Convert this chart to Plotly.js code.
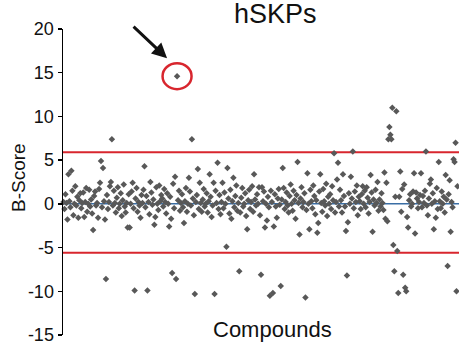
<!DOCTYPE html>
<html>
<head>
<meta charset="utf-8">
<script src="https://cdn.plot.ly/plotly-3.0.1.min.js"></script>
<style>html,body{margin:0;padding:0;background:#fff;}#chart{width:459px;height:347px;}</style>
</head>
<body>
<div id="chart"></div>
<script>
// B-scores per compound, in compound order
const bScores = [
  0.2, -0.6, 1.1, 0.1, -1.8, 3.4, 0.3, -0.4, 3.8, 1.5, -1.3, 0.0, 2.0, -0.2, 0.8, -1.6, 0.4, 1.2, -0.5, 0.1,
  1.3, -1.5, 0.2, 1.8, -0.9, 0.0, 1.6, -0.3, 0.5, -1.1, -3.0, 0.9, 1.4, -0.2, 0.1, -1.6, 1.7, 2.4, 4.9, -0.4,
  4.1, 0.3, -1.8, -8.6, 1.0, -0.6, 0.2, 2.0, 2.5, 7.4, -0.2, 1.5, 0.1, -1.0, 0.7, 1.9, -0.5, 0.0, 1.2, -1.4,
  0.4, 2.2, -0.3, -1.0, 0.1, -2.7, 1.1, -2.7, 0.0, 1.4, 2.4, -0.5, -9.9, 0.6, 1.8, -0.9, 0.2, -0.2, -1.6, 1.0,
  0.1, 1.6, 4.3, -0.4, 0.9, -9.9, 0.2, -1.2, 2.5, 1.3, -0.1, 0.5, -2.4, -1.5, 1.9, 0.0, -0.7, 2.1, 0.3, 1.0,
  0.6, -0.3, 1.7, 0.2, -1.1, 1.2, 0.0, -2.6, 0.8, -1.7, -7.9, 2.3, -0.5, 3.1, -8.6, 14.6, 0.4, 1.5, -0.8, 0.1,
  1.1, -0.4, -2.2, 0.3, 1.8, -0.9, 0.0, 3.0, 1.4, -0.2, 7.4, 0.6, -1.3, -10.3, 0.2, 1.0, 4.0, -0.6, 2.4, 0.1,
  -0.9, 0.5, 1.7, -0.3, 0.0, 1.2, -1.0, 0.3, 3.4, 0.8, -1.5, -0.2, 2.4, -10.3, 1.5, 0.1, 4.7, -0.6, 1.0, -1.2,
  0.2, 2.4, -0.5, 1.3, 0.0, -4.9, 4.1, 0.6, -1.1, 1.6, -1.7, 0.3, 3.0, -0.4, 0.9, 2.1, -0.8, 0.1, -7.7, -1.0,
  0.7, 1.8, -0.3, 0.0, 1.2, -1.4, -2.9, 0.4, 1.6, -0.6, 0.2, 2.0, -0.9, 3.4, 0.5, -0.2, 1.1, 0.0, 1.9, -1.3,
  -8.1, 1.9, 0.3, 1.4, -2.7, 0.0, -1.9, 0.8, -0.4, -10.5, 1.5, 0.2, -10.2, -2.6, 1.1, -0.3, -1.6, 0.6, 1.7, -0.1,
  -9.4, 0.5, 4.1, 1.8, -0.6, 0.2, 1.3, -0.2, -1.0, 0.9, 2.2, 0.0, -0.8, 1.5, 0.4, -1.7, 1.0, 4.8, 0.1, -3.5,
  0.6, 1.9, -0.4, 0.2, 1.2, -10.7, -0.7, 3.5, 0.0, -2.9, 1.6, 0.3, -0.5, 2.1, 0.9, -1.2, 0.4, -3.3, -2.2, 1.4,
  3.4, 0.1, -0.9, 1.7, 0.3, -0.2, 2.3, -1.4, 0.8, 0.0, 1.1, -0.6, 2.0, 0.4, 5.8, -1.0, 0.2, 2.8, 4.7, -0.3,
  1.6, 0.4, -1.0, 3.4, 0.9, -0.3, -3.1, -8.2, -2.1, 1.2, 0.0, 3.1, 0.6, 6.0, -0.5, 1.4, 0.2, 2.1, -1.3, 0.8,
  0.3, -0.6, 1.1, 2.0, 0.0, 1.5, -0.4, 1.9, 0.7, -1.1, 0.2, 3.3, 1.3, -3.2, 0.5, -0.2, 1.6, 0.1, 2.5, -0.8,
  0.5, -0.3, 1.2, 0.1, -0.7, 3.6, -1.7, 2.4, -2.0, 7.4, 8.8, 7.9, 7.4, 11.0, -4.7, -7.7, 0.8, 10.6, -5.4, -10.2,
  0.8, 3.7, -0.9, 1.7, -8.1, 2.2, -9.6, -10.0, -1.5, -2.7, 0.4, 1.1, -0.3, 0.0, 1.4, 3.5, -3.4, 1.3, 0.6, -0.5,
  0.2, 1.0, 3.5, -0.4, 0.9, 0.1, 1.5, 6.0, -0.2, -1.3, 0.6, 2.3, 2.8, 0.0, 1.2, -2.9, 0.3, -1.6, 1.8, -0.6,
  4.8, 0.3, -0.5, 1.4, 0.0, 0.8, -1.0, 3.3, 0.5, -7.1, 1.1, 2.7, -3.2, 0.2, -0.4, 5.1, 4.8, 7.0, -10.0, 2.0
];
const compounds = bScores.map((_, i) => i);

const upperCutoff = 5.9;
const lowerCutoff = -5.6;
const baseline = 0;

const yTicks = [-15, -10, -5, 0, 5, 10, 15, 20];

const titleText = 'hSKPs';
const xTitleText = 'Compounds';
const yTitleText = 'B-Score';

// the highlighted hit
const hitIndex = bScores.indexOf(Math.max(...bScores));
const hitX = compounds[hitIndex];
const hitY = bScores[hitIndex];

const trace = {
  x: compounds,
  y: bScores,
  type: 'scatter',
  mode: 'markers',
  marker: {symbol: 'diamond', size: 5, color: '#585858'},
  hoverinfo: 'x+y',
  cliponaxis: false
};

const font = 'Liberation Sans, Arial, sans-serif';

const layout = {
  width: 459,
  height: 347,
  margin: {l: 63, r: 0, t: 29, b: 12},
  paper_bgcolor: '#ffffff',
  plot_bgcolor: '#ffffff',
  showlegend: false,
  xaxis: {
    range: [-0.5, compounds.length + 0.5],
    showgrid: false,
    zeroline: false,
    showline: false,
    showticklabels: false,
    ticks: ''
  },
  yaxis: {
    range: [-15, 20],
    tickvals: yTicks,
    ticktext: yTicks.map(String),
    showgrid: false,
    zeroline: false,
    showline: true,
    linecolor: '#000',
    linewidth: 1.5,
    ticks: 'outside',
    ticklen: 4,
    tickwidth: 1.5,
    tickcolor: '#000',
    tickfont: {family: font, size: 18, color: '#111'}
  },
  shapes: [
    {type: 'line', xref: 'paper', yref: 'y', x0: 0, x1: 1, y0: baseline, y1: baseline,
     line: {color: '#3a6ea5', width: 1.5}, layer: 'below'},
    {type: 'line', xref: 'paper', yref: 'y', x0: 0, x1: 1, y0: upperCutoff, y1: upperCutoff,
     line: {color: '#d8262e', width: 2}, layer: 'below'},
    {type: 'line', xref: 'paper', yref: 'y', x0: 0, x1: 1, y0: lowerCutoff, y1: lowerCutoff,
     line: {color: '#d8262e', width: 2}, layer: 'below'},
    {type: 'circle', xref: 'x', yref: 'y', xsizemode: 'pixel', ysizemode: 'pixel',
     xanchor: hitX, yanchor: hitY, x0: -14.5, x1: 14.5, y0: -13, y1: 13,
     line: {color: '#d8262e', width: 2.5}}
  ],
  annotations: [
    {text: titleText, xref: 'paper', yref: 'paper', x: (275 - 63) / 396, y: 1, yshift: -2,
     xanchor: 'center', yanchor: 'bottom', showarrow: false,
     font: {family: font, size: 27, color: '#111'}},
    {text: xTitleText, xref: 'paper', yref: 'paper', x: (272 - 63) / 396, y: 0, yshift: -9,
     xanchor: 'center', yanchor: 'bottom', showarrow: false,
     font: {family: font, size: 22, color: '#111'}},
    {text: yTitleText, xref: 'paper', yref: 'paper', x: (18 - 63) / 396, y: 0.5, yshift: 4,
     xanchor: 'center', yanchor: 'middle', textangle: -90, showarrow: false,
     font: {family: font, size: 19, color: '#111'}},
    {text: '', xref: 'x', yref: 'y', x: hitX, y: hitY, xshift: -10, yshift: 18,
     showarrow: true, ax: -35, ay: -33, arrowhead: 2, arrowsize: 1, arrowwidth: 3,
     arrowcolor: '#111', standoff: 0}
  ]
};

Plotly.newPlot('chart', [trace], layout, {staticPlot: true, displayModeBar: false});
</script>
</body>
</html>
